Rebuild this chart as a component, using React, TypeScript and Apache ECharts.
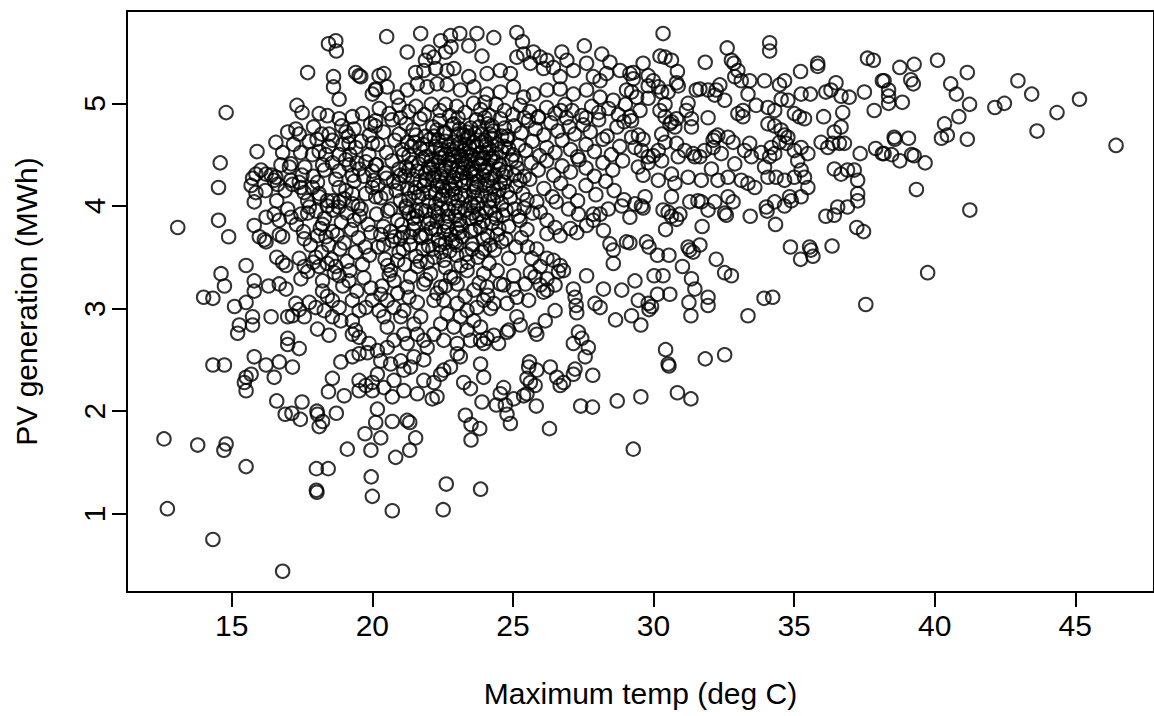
import React, { useEffect, useRef } from 'react'
import * as echarts from 'echarts'

// [max temp (deg C), PV generation (MWh)]
type Pt = [number, number]

const xTicks = [15, 20, 25, 30, 35, 40, 45]
const yTicks = [1, 2, 3, 4, 5]

// cool days, low output (bottom left)
const coolLow: Pt[] = [
    [15.51, 2.2], [16.6, 2.1], [17.5, 2.09], [16.9, 1.97], [17.14, 1.98], [17.44, 1.92], [18.03, 2.0], [18.05, 1.97],
    [18.11, 1.85], [18.23, 1.9], [18.44, 2.19], [18.72, 1.98], [19.0, 2.15], [19.53, 2.2], [20.0, 2.2], [19.74, 1.78],
    [19.11, 1.63], [12.59, 1.73], [13.79, 1.67], [14.72, 1.62], [14.8, 1.68], [15.51, 1.46], [18.01, 1.44], [18.43, 1.44],
    [18.01, 1.23], [18.03, 1.21], [12.71, 1.05], [14.33, 0.75], [16.81, 0.44],
    [20.71, 2.14], [20.18, 2.02], [20.12, 1.89], [20.71, 1.9], [21.24, 1.91], [21.33, 1.89], [20.3, 1.74], [21.54, 1.74],
    [21.33, 1.62], [20.83, 1.55], [19.95, 1.62], [19.96, 1.36], [20.0, 1.17], [20.71, 1.03], [22.63, 1.29], [22.52, 1.04],
    [23.85, 1.24], [22.13, 2.12], [22.3, 2.14], [23.31, 1.96], [23.51, 1.87], [23.82, 1.83], [23.51, 1.72], [23.9, 2.09],
    [24.41, 2.06], [24.73, 2.06], [24.79, 1.97], [24.91, 1.88], [25.03, 2.12], [25.38, 2.15], [25.83, 2.05], [26.3, 1.83],
    [27.41, 2.05], [27.83, 2.04], [28.71, 2.1], [29.28, 1.63],
]

// cool days, middle output (left side)
const coolMid: Pt[] = [
    [13.08, 3.79], [14.53, 3.86], [14.89, 3.7], [15.8, 4.04], [15.8, 3.81], [16.22, 3.89], [16.51, 3.92], [16.69, 3.86],
    [16.99, 3.97], [17.11, 3.89], [17.46, 3.92], [17.7, 3.93], [17.76, 3.99], [18.23, 3.82], [18.4, 4.0], [18.82, 4.04],
    [15.98, 3.7], [16.16, 3.67], [16.22, 3.65], [16.69, 3.72], [16.81, 3.7], [17.58, 3.68], [18.05, 3.71], [18.35, 3.7],
    [18.58, 3.75], [15.51, 3.42], [14.62, 3.34], [14.74, 3.22], [14.0, 3.11], [14.33, 3.1], [15.1, 3.02], [15.51, 3.06],
    [15.27, 2.84], [15.21, 2.76], [15.8, 3.27], [15.8, 3.17], [16.31, 3.22], [15.74, 2.92], [15.74, 2.84], [16.4, 2.92],
    [16.6, 3.5], [16.81, 3.45], [16.93, 3.42], [16.69, 3.24], [16.93, 3.19], [17.4, 3.49], [17.58, 3.41], [17.7, 3.36],
    [17.46, 3.29], [17.28, 3.05], [17.4, 2.99], [17.58, 2.92], [17.76, 3.06], [17.99, 3.01], [16.99, 2.92], [17.16, 2.93],
    [18.05, 2.8], [18.46, 2.74], [18.23, 3.27], [18.23, 3.17], [18.4, 3.12], [18.29, 2.98], [18.58, 3.08], [18.82, 3.01],
    [18.58, 2.92], [18.88, 2.88], [16.99, 2.71], [16.99, 2.65], [17.4, 2.61], [14.33, 2.45], [14.74, 2.45], [15.8, 2.53],
    [16.22, 2.45], [16.69, 2.48], [17.16, 2.43], [15.51, 2.33], [15.69, 2.36], [15.45, 2.28], [16.51, 2.33], [18.58, 2.32],
    [18.88, 2.48], [19.29, 2.53], [19.53, 2.3], [19.77, 2.25], [20.0, 2.28], [19.53, 2.56], [19.82, 2.57], [17.99, 3.5],
    [18.11, 3.41], [18.4, 3.44], [18.7, 3.41], [18.82, 3.32], [19.17, 3.27], [19.29, 3.08], [19.53, 2.98], [19.29, 2.88],
    [19.77, 3.01], [20.0, 3.08], [19.29, 2.75], [19.53, 2.72], [19.88, 2.66], [19.4, 2.79],
    [18.0, 3.95], [18.3, 3.88], [18.6, 3.96], [18.9, 3.84], [19.1, 3.93], [19.35, 3.86], [19.6, 3.97], [19.85, 3.82],
    [18.15, 3.78], [18.45, 3.62], [18.75, 3.72], [19.0, 3.64], [19.25, 3.77], [19.5, 3.69], [19.75, 3.6], [19.95, 3.74],
    [18.2, 3.55], [18.55, 3.48], [18.85, 3.58], [19.1, 3.46], [19.4, 3.55], [19.65, 3.43], [19.9, 3.52], [18.65, 3.35],
    [18.95, 3.22], [19.2, 3.37], [19.45, 3.17], [19.7, 3.3], [19.95, 3.2], [17.8, 3.62], [17.55, 3.75], [17.3, 3.82],
    [19.3, 4.02], [19.55, 3.9], [18.8, 3.99], [17.9, 3.45],
]

// cool days, upper output
const coolHigh: Pt[] = [
    [18.44, 5.58], [18.7, 5.61], [18.72, 5.51], [17.7, 5.3], [18.62, 5.26], [18.62, 5.16], [18.82, 5.04], [19.41, 5.3],
    [19.59, 5.26], [19.53, 5.27], [20.0, 5.09], [20.12, 5.13], [20.24, 5.27], [14.8, 4.91], [14.59, 4.42], [14.53, 4.18],
    [15.9, 4.53], [16.57, 4.62], [16.81, 4.52], [17.11, 4.41], [17.05, 4.38], [16.99, 4.72], [17.28, 4.75], [17.4, 4.7],
    [17.32, 4.98], [17.5, 4.91], [17.91, 4.77], [18.03, 4.65], [18.11, 4.9], [18.4, 4.88], [18.46, 4.7], [18.58, 4.64],
    [18.82, 4.85], [18.91, 4.78], [19.06, 4.72], [19.29, 4.87], [19.35, 4.75], [19.17, 4.61], [19.41, 4.57], [19.65, 4.9],
    [19.94, 4.8], [20.0, 4.61], [20.12, 4.83], [17.87, 4.5], [18.11, 4.53], [18.23, 4.4], [18.35, 4.5], [18.58, 4.42],
    [18.82, 4.34], [18.82, 4.5], [19.06, 4.45], [19.17, 4.4], [19.29, 4.3], [19.53, 4.36], [19.77, 4.43], [19.88, 4.5],
    [20.0, 4.34], [20.12, 4.4], [15.74, 4.27], [15.86, 4.31], [16.04, 4.35], [16.22, 4.31], [15.69, 4.2], [15.86, 4.13],
    [16.51, 4.25], [16.63, 4.21], [16.57, 4.28], [17.16, 4.21], [17.4, 4.23], [17.46, 4.18], [17.58, 4.13], [17.87, 4.18],
    [18.11, 4.09], [18.11, 4.12], [18.4, 4.05], [18.82, 4.18], [19.06, 4.15], [19.29, 4.12], [19.77, 4.12], [20.0, 4.18],
    [20.12, 4.09],
    [17.2, 4.6], [17.45, 4.52], [17.6, 4.38], [17.75, 4.63], [17.9, 4.29], [18.2, 4.7], [18.3, 4.35], [18.45, 4.58],
    [18.7, 4.26], [18.95, 4.6], [19.2, 4.5], [19.35, 4.24], [19.6, 4.63], [19.7, 4.29], [19.9, 4.69], [20.05, 4.25],
    [18.6, 4.05], [19.0, 4.07], [19.5, 4.0], [17.7, 4.05], [18.05, 4.23], [19.15, 4.68], [19.45, 4.42], [17.5, 4.3],
    [16.9, 4.15], [17.1, 4.25], [16.75, 4.4], [16.4, 4.3], [16.2, 4.15], [16.6, 4.05],
]

// mild days, top band
const mildTop: Pt[] = [
    [20.51, 5.65], [21.72, 5.68], [21.24, 5.5], [22.43, 5.61], [22.78, 5.66], [23.11, 5.68], [22.8, 5.55], [23.43, 5.56],
    [23.72, 5.68], [24.32, 5.64], [23.9, 5.46], [25.14, 5.69], [25.34, 5.6], [26.74, 5.5], [26.92, 5.42], [27.54, 5.56],
    [28.16, 5.48], [28.45, 5.4], [20.41, 5.29], [22.01, 5.5], [21.89, 5.42], [22.19, 5.45], [22.6, 5.5], [21.54, 5.3],
    [21.83, 5.32], [22.25, 5.34], [22.66, 5.32], [22.9, 5.34], [23.43, 5.26], [24.08, 5.29], [24.55, 5.32], [24.91, 5.29],
    [25.14, 5.45], [25.38, 5.48], [25.73, 5.5], [25.97, 5.45], [26.21, 5.42], [26.44, 5.35], [25.62, 5.39], [26.09, 5.34],
    [26.68, 5.26], [27.15, 5.32], [27.62, 5.39], [27.86, 5.26], [28.81, 5.32], [29.16, 5.29], [28.1, 5.22], [28.33, 5.29],
    [20.12, 5.14], [20.53, 5.16], [20.89, 5.06], [21.24, 5.13], [21.6, 5.19], [21.95, 5.16], [22.3, 5.19], [22.66, 5.18],
    [23.13, 5.13], [23.61, 5.16], [24.08, 5.09], [24.55, 5.11], [25.02, 5.16], [25.38, 5.06], [25.73, 5.09], [26.21, 5.13],
    [26.68, 5.14], [27.15, 5.09], [27.62, 5.13], [28.1, 5.06], [28.57, 5.03], [29.04, 5.13],
]

// mild days, dense core
const mildCore: Pt[] = [
    [20.25, 4.95], [20.6, 4.9], [20.95, 4.98], [21.3, 4.92], [21.55, 4.97], [21.85, 4.89], [22.1, 4.99], [22.4, 4.93],
    [22.75, 4.88], [23.0, 4.97], [23.3, 4.91], [23.6, 5.0], [23.85, 4.94], [24.15, 4.88], [24.4, 4.99], [24.7, 4.93],
    [25.0, 4.89], [25.25, 4.98], [25.6, 4.92], [25.9, 4.87], [26.2, 4.96], [26.5, 4.9], [26.85, 4.99], [27.1, 4.93],
    [27.45, 4.88], [27.8, 4.97], [28.05, 4.91], [28.4, 4.95], [28.75, 4.89], [29.0, 4.99], [21.0, 4.86], [22.6, 4.99],
    [24.0, 5.01], [25.4, 4.86], [26.7, 4.93], [27.6, 4.86],
    [20.1, 4.78], [20.4, 4.72], [20.7, 4.84], [20.95, 4.7], [21.2, 4.8], [21.45, 4.74], [21.7, 4.85], [21.9, 4.68],
    [22.15, 4.77], [22.4, 4.83], [22.6, 4.71], [22.85, 4.79], [23.05, 4.86], [23.25, 4.69], [23.5, 4.76], [23.7, 4.84],
    [23.9, 4.7], [24.1, 4.8], [24.3, 4.73], [24.55, 4.85], [24.8, 4.68], [25.05, 4.78], [25.3, 4.71], [25.55, 4.83],
    [25.8, 4.75], [26.1, 4.69], [26.35, 4.81], [26.6, 4.73], [26.9, 4.86], [27.2, 4.7], [27.5, 4.79], [27.75, 4.72],
    [28.05, 4.84], [28.35, 4.68], [28.7, 4.77], [28.95, 4.82], [23.4, 4.68], [23.8, 4.77], [24.0, 4.86], [22.3, 4.74],
    [21.55, 4.69], [24.7, 4.76], [25.9, 4.86], [27.0, 4.77],
    [20.2, 4.6], [20.5, 4.52], [20.8, 4.64], [21.05, 4.55], [21.3, 4.49], [21.5, 4.62], [21.7, 4.56], [21.9, 4.48],
    [22.05, 4.65], [22.25, 4.58], [22.45, 4.51], [22.6, 4.63], [22.8, 4.55], [22.95, 4.48], [23.1, 4.61], [23.25, 4.54],
    [23.4, 4.66], [23.55, 4.49], [23.7, 4.58], [23.85, 4.52], [24.0, 4.64], [24.15, 4.56], [24.3, 4.47], [24.45, 4.6],
    [24.6, 4.53], [24.8, 4.65], [25.0, 4.5], [25.2, 4.59], [25.45, 4.54], [25.7, 4.63], [25.95, 4.49], [26.2, 4.57],
    [26.5, 4.52], [26.75, 4.64], [27.05, 4.55], [27.3, 4.48], [27.6, 4.6], [27.9, 4.53], [28.2, 4.65], [28.5, 4.5],
    [28.8, 4.58], [23.6, 4.62], [23.95, 4.47], [24.25, 4.66], [22.7, 4.58], [23.35, 4.51], [24.7, 4.58], [21.8, 4.6],
    [23.0, 4.56], [24.05, 4.6], [22.35, 4.64], [23.15, 4.49],
    [20.15, 4.4], [20.45, 4.32], [20.7, 4.44], [20.95, 4.36], [21.15, 4.29], [21.4, 4.42], [21.6, 4.34], [21.8, 4.46],
    [22.0, 4.38], [22.2, 4.3], [22.35, 4.43], [22.55, 4.35], [22.7, 4.45], [22.9, 4.28], [23.05, 4.39], [23.2, 4.32],
    [23.4, 4.44], [23.55, 4.36], [23.7, 4.29], [23.85, 4.41], [24.0, 4.34], [24.2, 4.46], [24.35, 4.3], [24.55, 4.4],
    [24.75, 4.33], [24.95, 4.45], [25.15, 4.37], [25.4, 4.29], [25.65, 4.42], [25.9, 4.35], [26.2, 4.44], [26.45, 4.3],
    [26.75, 4.39], [27.05, 4.33], [27.35, 4.45], [27.6, 4.37], [27.9, 4.29], [28.2, 4.42], [28.55, 4.35], [28.9, 4.44],
    [22.8, 4.37], [23.3, 4.42], [23.6, 4.31], [24.1, 4.38], [21.9, 4.32], [22.45, 4.29], [23.9, 4.46], [24.5, 4.36],
    [21.3, 4.35], [22.1, 4.45], [23.0, 4.31],
    [20.2, 4.2], [20.5, 4.12], [20.75, 4.24], [21.0, 4.05], [21.25, 4.17], [21.45, 4.26], [21.65, 4.09], [21.85, 4.2],
    [22.05, 4.13], [22.25, 4.02], [22.4, 4.24], [22.6, 4.15], [22.8, 4.07], [22.95, 4.22], [23.15, 4.11], [23.35, 4.27],
    [23.5, 4.03], [23.7, 4.18], [23.9, 4.1], [24.1, 4.25], [24.3, 4.06], [24.5, 4.16], [24.7, 4.23], [24.9, 4.08],
    [25.1, 4.19], [25.35, 4.12], [25.6, 4.26], [25.85, 4.04], [26.1, 4.17], [26.4, 4.09], [26.7, 4.22], [27.0, 4.14],
    [27.3, 4.05], [27.6, 4.2], [27.95, 4.11], [28.3, 4.24], [28.6, 4.15], [28.95, 4.06], [22.5, 4.19], [23.05, 4.05],
    [23.6, 4.14], [24.2, 4.12], [21.5, 4.13], [22.15, 4.27], [24.6, 4.02], [25.25, 4.25],
    [20.15, 3.92], [20.4, 3.8], [20.65, 3.97], [20.9, 3.86], [21.1, 3.74], [21.3, 3.93], [21.5, 3.83], [21.7, 3.71],
    [21.9, 3.95], [22.05, 3.87], [22.25, 3.77], [22.45, 3.98], [22.6, 3.84], [22.8, 3.72], [22.95, 3.9], [23.15, 3.81],
    [23.3, 3.96], [23.5, 3.75], [23.7, 3.88], [23.85, 3.79], [24.05, 3.94], [24.25, 3.83], [24.45, 3.72], [24.65, 3.91],
    [24.85, 3.8], [25.05, 3.97], [25.25, 3.86], [25.5, 3.77], [25.7, 3.93], [21.6, 3.9], [22.35, 3.92], [23.0, 3.78],
    [23.6, 3.99], [24.4, 3.88], [20.8, 3.7], [21.2, 3.98], [22.7, 3.97], [24.1, 3.71], [25.4, 3.98], [20.3, 3.72],
    [20.2, 3.6], [20.45, 3.48], [20.7, 3.66], [20.95, 3.55], [21.15, 3.43], [21.35, 3.62], [21.55, 3.51], [21.75, 3.69],
    [21.95, 3.45], [22.15, 3.58], [22.35, 3.67], [22.55, 3.47], [22.75, 3.56], [22.95, 3.65], [23.15, 3.42], [23.35, 3.53],
    [23.55, 3.63], [23.75, 3.5], [23.95, 3.68], [24.15, 3.44], [24.35, 3.57], [24.6, 3.65], [24.85, 3.49], [25.1, 3.6],
    [25.3, 3.69], [21.0, 3.68], [22.0, 3.61], [23.0, 3.52], [24.0, 3.58], [21.6, 3.41], [22.6, 3.64], [20.55, 3.42],
    [20.35, 3.22], [20.9, 3.15], [21.6, 3.06], [22.3, 3.15], [22.9, 3.3], [23.3, 3.12], [23.8, 3.25], [24.1, 3.13],
    [21.9, 3.28], [20.6, 3.33], [21.3, 3.11], [22.6, 3.22],
    [21.1, 4.5], [21.4, 4.58], [21.65, 4.41], [21.95, 4.55], [22.2, 4.68], [22.4, 4.47], [22.55, 4.72], [22.75, 4.42],
    [22.9, 4.62], [23.1, 4.75], [23.2, 4.45], [23.45, 4.57], [23.65, 4.7], [23.8, 4.4], [24.05, 4.52], [24.25, 4.78],
    [24.4, 4.43], [24.6, 4.68], [24.85, 4.56], [25.1, 4.44], [21.2, 4.0], [21.45, 3.88], [21.75, 3.96], [22.0, 4.04],
    [22.3, 3.85], [22.5, 4.1], [22.7, 3.9], [22.85, 4.16], [23.05, 3.95], [23.25, 4.2], [23.45, 3.88], [23.65, 4.08],
    [23.8, 3.92], [24.0, 4.2], [24.2, 3.98], [24.45, 4.1], [21.35, 3.7], [21.8, 3.58], [22.1, 3.78], [22.45, 3.55],
    [22.65, 3.8], [23.0, 3.62], [23.2, 3.7], [23.55, 3.58], [21.0, 4.3], [21.25, 4.62], [21.7, 4.24], [22.05, 4.36],
    [22.3, 4.2], [22.65, 4.28], [23.15, 4.25], [23.5, 4.33], [23.75, 4.24], [24.25, 4.27], [24.65, 4.3], [23.3, 4.6],
    [23.05, 4.7], [23.9, 4.62], [22.45, 4.55], [22.85, 4.5],
]

// extra points in the darkest part of the cloud (20-25 deg C, 3.4-4.3 MWh)
const mildCoreExtra: Pt[] = [
    [20.3, 4.08], [20.55, 3.95], [20.85, 4.15], [21.05, 3.82], [21.3, 4.07], [21.55, 3.95], [21.8, 4.12], [22.0, 3.83],
    [22.2, 3.95], [22.4, 4.06], [22.55, 3.75], [22.75, 4.22], [22.95, 3.99], [23.1, 3.86], [23.3, 4.1], [23.55, 3.93],
    [23.75, 4.02], [23.95, 3.85], [24.15, 4.05], [24.35, 3.92], [24.55, 4.22], [24.75, 3.96], [20.4, 3.62], [20.65, 3.75],
    [20.9, 3.47], [21.1, 3.58], [21.45, 3.77], [21.7, 3.46], [21.9, 3.72], [22.2, 3.5], [22.4, 3.62], [22.6, 3.4],
    [22.85, 3.66], [23.1, 3.74], [23.4, 3.45], [23.65, 3.77], [23.9, 3.55], [24.2, 3.62], [24.5, 3.78], [24.75, 3.68],
    [20.5, 4.27], [20.95, 4.22], [21.2, 4.38], [21.55, 4.18], [21.9, 4.26], [22.25, 4.12], [22.6, 4.38], [22.95, 4.12],
    [23.25, 4.36], [23.6, 4.22], [23.95, 4.3], [24.3, 4.19], [24.8, 4.14], [25.05, 4.3], [25.5, 4.06], [25.2, 3.9],
    [23.5, 4.5], [23.75, 4.46], [22.6, 4.5], [22.15, 4.4], [24.4, 4.51], [23.35, 4.72], [22.9, 4.8], [24.2, 4.7],
]

// mild days, lower output
const mildLow: Pt[] = [
    [26.54, 4.04], [26.98, 3.97], [27.33, 3.92], [27.86, 3.92], [28.39, 3.97], [28.87, 4.0], [25.97, 3.94], [26.21, 3.86],
    [26.5, 3.79], [26.21, 3.73], [26.68, 3.71], [27.04, 3.78], [27.27, 3.74], [27.62, 3.81], [27.86, 3.86], [28.1, 3.92],
    [28.22, 3.76], [28.45, 3.63], [28.57, 3.57], [28.57, 3.44], [29.04, 3.65], [27.62, 3.32], [28.22, 3.19], [28.87, 3.18],
    [27.92, 3.05], [28.1, 3.01], [28.65, 2.89], [27.15, 3.19], [27.21, 3.11], [27.25, 3.03], [27.27, 2.96], [27.15, 2.66],
    [27.33, 2.77], [27.45, 2.71], [27.68, 2.62], [27.57, 2.53], [27.21, 2.41], [27.84, 2.35], [25.52, 3.6], [25.85, 3.58],
    [25.67, 3.49], [26.21, 3.49], [26.44, 3.47], [26.68, 3.42], [26.8, 3.37], [26.62, 3.36], [25.97, 3.41], [26.21, 3.29],
    [25.97, 3.23], [26.21, 3.18], [26.09, 3.16], [26.5, 3.23], [25.03, 3.32], [25.62, 3.35], [25.79, 3.31], [25.44, 3.24],
    [25.03, 3.19], [25.56, 3.08], [25.14, 3.11], [24.67, 3.23], [24.55, 3.24], [24.79, 3.05], [24.32, 3.05], [24.2, 3.0],
    [26.5, 2.98], [26.15, 2.88], [25.85, 2.75], [25.79, 2.79], [25.26, 2.84], [25.14, 2.92], [24.85, 2.79], [24.79, 2.77],
    [24.49, 2.66], [24.32, 2.74], [24.08, 2.71], [23.85, 2.69], [23.96, 2.66], [25.59, 2.48], [25.56, 2.43], [25.85, 2.4],
    [26.33, 2.43], [25.5, 2.32], [25.62, 2.28], [25.79, 2.25], [26.56, 2.33], [26.8, 2.28], [26.68, 2.25], [27.15, 2.36],
    [24.55, 2.17], [25.5, 2.17], [24.67, 2.23], [23.85, 2.46], [23.96, 2.33], [23.49, 2.22], [23.25, 2.28], [23.02, 2.56],
    [23.13, 2.53], [22.78, 2.43], [22.54, 2.4], [22.43, 2.36], [22.19, 2.28], [21.83, 2.3], [21.6, 2.17], [21.83, 2.5],
    [21.36, 2.43], [20.3, 3.14], [20.53, 3.08], [20.24, 2.98], [20.77, 3.01], [21.12, 2.98], [20.41, 2.92], [21.01, 2.92],
    [20.53, 2.82], [21.12, 2.75], [21.48, 2.85], [21.72, 2.92], [21.6, 2.75], [21.83, 2.69], [21.95, 2.62], [21.24, 2.66],
    [20.77, 2.69], [20.53, 2.62], [20.18, 2.59], [20.3, 2.49], [20.65, 2.46], [21.01, 2.49], [21.48, 2.53], [21.12, 2.4],
    [20.77, 2.3], [20.18, 2.36], [20.41, 2.23], [21.12, 2.2], [22.19, 3.08], [22.54, 3.08], [23.02, 3.05], [23.37, 2.98],
    [23.72, 3.01], [23.96, 3.08], [22.66, 2.95], [23.13, 2.92], [23.61, 2.88], [22.43, 2.85], [22.9, 2.82], [23.37, 2.79],
    [23.85, 2.82], [22.19, 2.75], [22.54, 2.69], [23.02, 2.66], [23.49, 2.69], [20.77, 3.27], [21.24, 3.21], [21.83, 3.24],
    [22.43, 3.21], [23.02, 3.24], [23.61, 3.18], [24.08, 3.21], [20.65, 3.37], [21.36, 3.31], [22.07, 3.34], [22.78, 3.31],
    [23.37, 3.37], [23.96, 3.34], [24.44, 3.37],
]

// warm days (29-38 deg C)
const warm: Pt[] = [
    [30.34, 5.68], [32.62, 5.54], [34.13, 5.59], [34.13, 5.51], [31.84, 5.4], [30.23, 5.46], [30.41, 5.45], [30.64, 5.42],
    [29.63, 5.39], [30.85, 5.31], [32.77, 5.42], [32.86, 5.39], [33.0, 5.32], [35.84, 5.39], [35.84, 5.36], [37.61, 5.44],
    [37.82, 5.42], [35.23, 5.31], [38.14, 5.22], [29.28, 5.3], [29.28, 5.24], [29.81, 5.27], [29.99, 5.22], [30.17, 5.16],
    [29.81, 5.17], [30.29, 5.11], [30.82, 5.2], [30.88, 5.17], [29.22, 5.11], [29.4, 5.06], [29.81, 5.05], [30.41, 4.99],
    [30.52, 5.11], [31.52, 5.13], [31.65, 5.14], [31.94, 5.13], [32.23, 5.13], [32.36, 5.18], [32.53, 5.03], [32.18, 5.08],
    [32.89, 5.26], [33.12, 5.22], [33.42, 5.22], [33.95, 5.22], [34.48, 5.18], [34.66, 5.22], [34.54, 5.04], [34.78, 5.03],
    [33.36, 5.09], [33.65, 4.98], [34.07, 4.96], [34.31, 4.93], [35.25, 5.09], [35.58, 5.09], [36.13, 5.11], [36.31, 5.13],
    [36.49, 5.2], [36.67, 5.07], [36.96, 5.06], [37.5, 5.11], [37.85, 4.93], [29.52, 4.93], [29.16, 4.87], [29.22, 4.83],
    [30.23, 4.93], [30.41, 4.87], [30.58, 4.8], [30.29, 4.7], [30.64, 4.82], [30.82, 4.85], [30.76, 4.77], [31.23, 5.0],
    [31.17, 4.93], [31.35, 4.85], [31.35, 4.77], [31.94, 4.86], [33.0, 4.9], [33.18, 4.93], [33.18, 4.87], [35.01, 4.9],
    [35.19, 4.87], [35.37, 4.85], [34.54, 4.74], [34.66, 4.69], [34.78, 4.67], [34.31, 4.78], [34.07, 4.8], [34.48, 4.62],
    [36.05, 4.87], [36.73, 4.91], [36.67, 4.77], [36.43, 4.72], [36.37, 4.61], [36.61, 4.61], [36.79, 4.61], [35.96, 4.62],
    [36.2, 4.57], [37.35, 4.51], [37.9, 4.56], [38.14, 4.51], [29.22, 4.67], [29.46, 4.69], [29.63, 4.65], [29.34, 4.57],
    [29.57, 4.54], [29.81, 4.48], [29.99, 4.49], [30.17, 4.54], [30.29, 4.44], [30.41, 4.62], [30.82, 4.61], [30.88, 4.48],
    [31.11, 4.54], [31.41, 4.51], [31.47, 4.48], [31.65, 4.48], [31.82, 4.54], [32.12, 4.64], [32.18, 4.67], [32.29, 4.69],
    [32.12, 4.57], [32.41, 4.51], [32.65, 4.67], [32.83, 4.62], [33.24, 4.54], [33.42, 4.61], [33.48, 4.48], [33.83, 4.52],
    [34.13, 4.48], [34.19, 4.57], [34.31, 4.51], [34.72, 4.61], [35.01, 4.54], [35.25, 4.57], [35.49, 4.51], [35.13, 4.44],
    [35.25, 4.35], [35.37, 4.28], [35.49, 4.18], [36.43, 4.36], [36.67, 4.31], [36.9, 4.35], [37.14, 4.35], [37.26, 4.25],
    [37.26, 4.12], [29.46, 4.38], [29.81, 4.42], [29.63, 4.3], [30.17, 4.25], [30.64, 4.31], [30.76, 4.22], [31.23, 4.28],
    [31.7, 4.25], [32.06, 4.36], [32.29, 4.25], [32.65, 4.28], [32.89, 4.41], [33.12, 4.25], [33.36, 4.22], [33.6, 4.18],
    [33.95, 4.38], [34.07, 4.28], [34.36, 4.28], [34.66, 4.25], [35.01, 4.28], [35.25, 4.09], [32.65, 4.09], [32.18, 4.04],
    [31.58, 4.05], [30.64, 4.09], [29.7, 4.09], [29.34, 4.02], [34.84, 4.09],
    [29.57, 4.0], [29.63, 3.98], [30.34, 3.96], [30.52, 3.94], [30.64, 3.9], [30.82, 3.87], [30.94, 3.92], [29.16, 3.89],
    [31.29, 4.04], [31.7, 4.04], [31.94, 3.96], [32.53, 3.93], [32.59, 3.91], [32.83, 4.04], [33.44, 3.9], [34.01, 3.99],
    [34.04, 3.95], [34.31, 4.04], [34.66, 4.0], [34.9, 4.05], [34.34, 3.82], [36.13, 3.9], [36.43, 3.91], [36.55, 3.99],
    [36.9, 3.99], [37.26, 4.05], [30.43, 3.77], [31.73, 3.8], [37.23, 3.79], [37.47, 3.75], [29.16, 3.64], [29.75, 3.65],
    [29.84, 3.6], [30.14, 3.52], [30.55, 3.52], [31.23, 3.6], [31.29, 3.57], [31.41, 3.55], [31.65, 3.62], [31.03, 3.41],
    [32.23, 3.48], [32.53, 3.35], [32.77, 3.32], [34.87, 3.6], [35.23, 3.48], [35.55, 3.6], [35.6, 3.57], [35.67, 3.51],
    [36.35, 3.61], [29.34, 3.27], [30.02, 3.32], [30.34, 3.32], [31.35, 3.29], [31.47, 3.19], [30.58, 3.14], [30.14, 3.14],
    [29.46, 3.08], [29.81, 3.05], [29.93, 3.02], [29.84, 2.99], [29.22, 2.93], [29.55, 2.84], [31.26, 3.06], [31.33, 2.93],
    [31.94, 3.11], [31.94, 3.03], [33.36, 2.93], [33.93, 3.1], [34.24, 3.11], [37.55, 3.04], [30.43, 2.6], [30.52, 2.46],
    [30.55, 2.44], [31.84, 2.51], [32.53, 2.55], [29.55, 2.14], [30.85, 2.18], [31.33, 2.12],
]

// hot days (above 38 deg C)
const hot: Pt[] = [
    [40.1, 5.42], [38.76, 5.35], [39.27, 5.38], [41.16, 5.3], [38.2, 5.22], [39.15, 5.23], [39.24, 5.19], [40.57, 5.19],
    [42.96, 5.22], [38.36, 5.13], [38.36, 5.07], [38.36, 5.0], [38.85, 5.01], [40.77, 5.09], [43.45, 5.09], [45.15, 5.04],
    [41.24, 4.99], [42.14, 4.96], [42.48, 5.0], [44.35, 4.91], [40.86, 4.87], [40.35, 4.8], [43.64, 4.73], [46.45, 4.59],
    [38.56, 4.67], [38.58, 4.65], [39.07, 4.66], [40.24, 4.66], [40.45, 4.69], [41.16, 4.65], [38.2, 4.51], [38.47, 4.5],
    [38.76, 4.44], [39.18, 4.5], [39.27, 4.49], [39.66, 4.42], [39.35, 4.16], [41.25, 3.96], [39.75, 3.35],
]

const allPoints: Pt[] = [
    ...coolLow, ...coolMid, ...coolHigh, ...mildTop, ...mildCore, ...mildCoreExtra, ...mildLow, ...warm, ...hot,
]

const FONT = '"Liberation Sans", Arial, sans-serif'

const App: React.FC = () => {
    const chartRef = useRef<HTMLDivElement>(null)

    useEffect(() => {
        if (!chartRef.current) {
            return
        }
        const chart = echarts.init(chartRef.current, null, { renderer: 'svg' })

        const option = {
            animation: false,
            backgroundColor: '#ffffff',
            grid: {
                left: 127,
                top: 11,
                width: 1033,
                height: 581,
                show: true,
                borderColor: '#000',
                borderWidth: 2,
                backgroundColor: 'transparent',
            },
            xAxis: {
                type: 'value',
                min: 11.275,
                max: 47.8,
                name: 'Maximum temp (deg C)',
                nameLocation: 'middle',
                nameGap: 86,
                nameTextStyle: { fontFamily: FONT, fontSize: 30, color: '#000' },
                axisLine: { show: false },
                axisTick: {
                    show: true,
                    length: 15,
                    customValues: xTicks,
                    lineStyle: { color: '#000', width: 2 },
                },
                axisLabel: {
                    customValues: xTicks,
                    margin: 18,
                    fontFamily: FONT,
                    fontSize: 30,
                    color: '#000',
                },
                splitLine: { show: false },
            },
            yAxis: {
                type: 'value',
                min: 0.238,
                max: 5.9,
                name: 'PV generation (MWh)',
                nameLocation: 'middle',
                nameRotate: 90,
                nameGap: 86,
                nameTextStyle: { fontFamily: FONT, fontSize: 30, color: '#000' },
                axisLine: { show: false },
                axisTick: {
                    show: true,
                    length: 15,
                    customValues: yTicks,
                    lineStyle: { color: '#000', width: 2 },
                },
                axisLabel: {
                    customValues: yTicks,
                    rotate: 90,
                    margin: 18,
                    fontFamily: FONT,
                    fontSize: 30,
                    color: '#000',
                },
                splitLine: { show: false },
            },
            series: [
                {
                    type: 'scatter',
                    data: allPoints,
                    symbol: 'circle',
                    symbolSize: 13.5,
                    silent: true,
                    itemStyle: {
                        color: 'rgba(0,0,0,0)',
                        borderColor: '#000',
                        borderWidth: 2,
                    },
                },
            ],
        }

        chart.setOption(option)

        return () => {
            chart.dispose()
        }
    }, [])

    return (
        <div
            ref={chartRef}
            style={{ position: 'fixed', left: 0, top: 0, width: '1154px', height: '716px', background: '#fff' }}
        />
    )
}

export default App
